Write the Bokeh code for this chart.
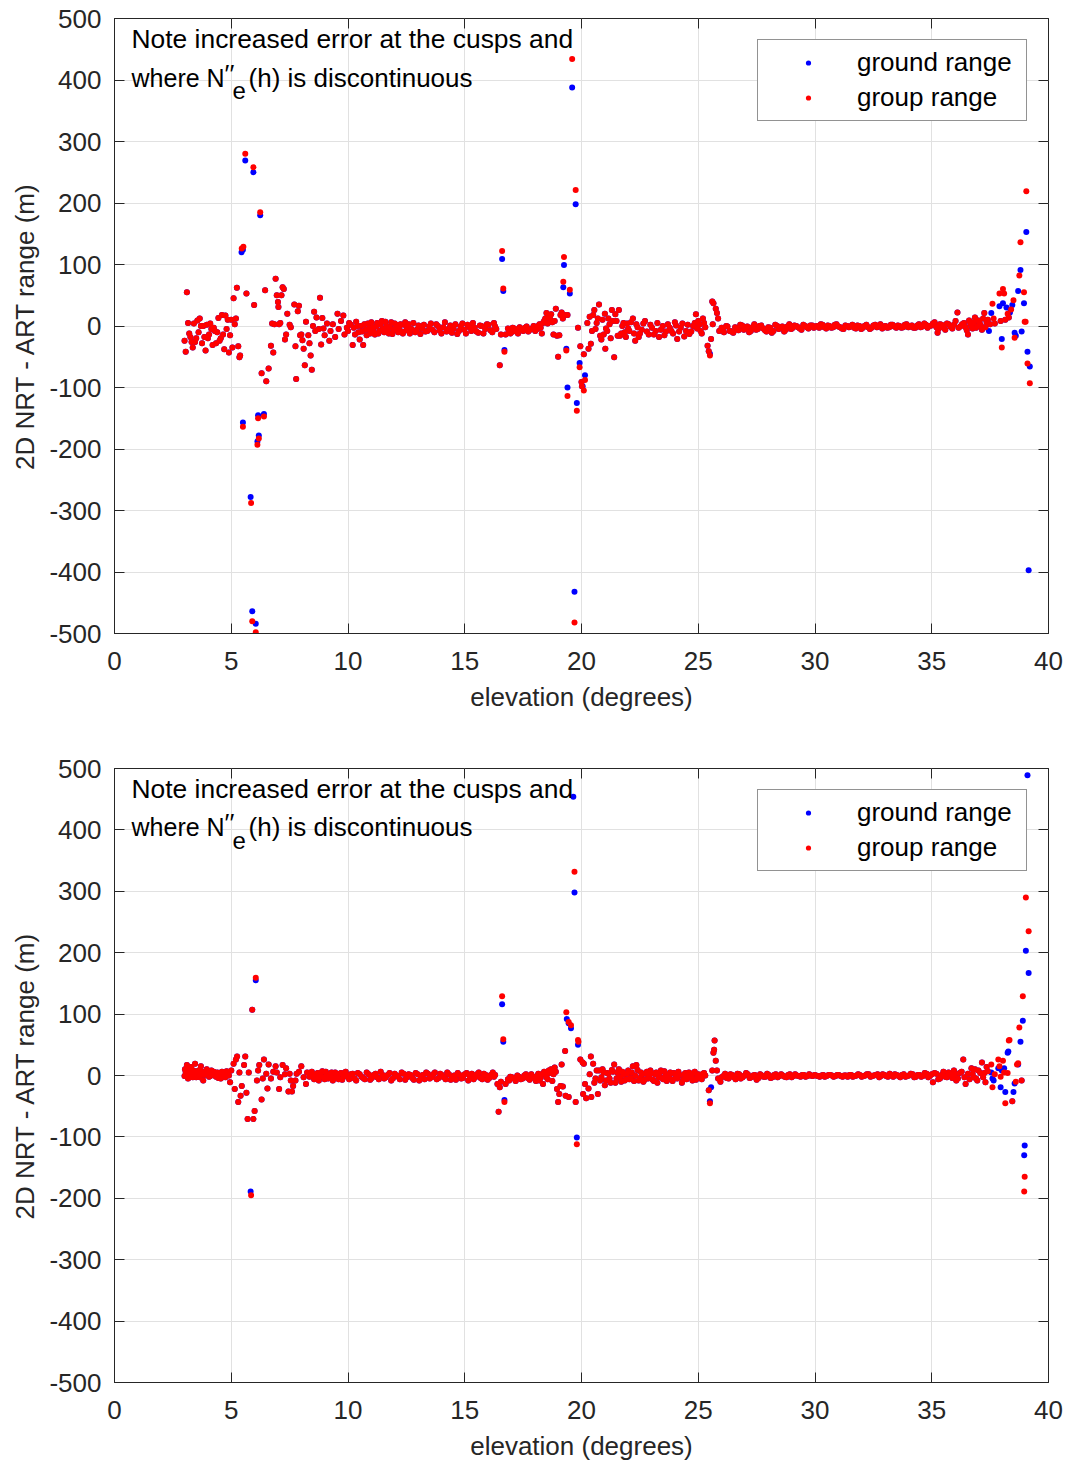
from bokeh.plotting import figure
from bokeh.layouts import column
from bokeh.models import (Label, Legend, LegendItem, LinearAxis, SingleIntervalTicker,
                          CustomJSTickFormatter, Range1d)
from bokeh.embed import file_html
from bokeh.resources import INLINE

# ---------------- data: panel 1 ----------------
# points where ground range and group range coincide
elev_band_1 = [
    3.00, 3.05, 3.10, 3.15, 3.20, 3.25, 3.30, 3.35, 3.40, 3.45, 3.50, 3.55, 3.60, 3.65, 3.70,
    3.75, 3.80, 3.85, 3.90, 3.95, 4.00, 4.05, 4.10, 4.15, 4.20, 4.25, 4.30, 4.35, 4.40, 4.45,
    4.50, 4.55, 4.60, 4.65, 4.70, 4.75, 4.80, 4.85, 4.90, 4.95, 5.00, 5.05, 5.10, 5.15, 5.20,
    5.24, 5.30, 5.35, 5.38, 5.65, 5.98, 6.30, 6.45, 6.50, 6.60, 6.70, 6.75, 6.80, 6.85, 6.90,
    6.95, 7.00, 7.02, 7.05, 7.10, 7.15, 7.20, 7.25, 7.30, 7.35, 7.40, 7.50, 7.55, 7.70, 7.75,
    7.78, 7.85, 7.90, 7.95, 8.00, 8.05, 8.10, 8.15, 8.20, 8.30, 8.35, 8.40, 8.45, 8.50, 8.55,
    8.60, 8.65, 8.75, 8.80, 8.85, 8.90, 8.95, 9.00, 9.10, 9.20, 9.25, 9.35, 9.45, 9.55, 9.60,
    9.70, 9.80, 9.85, 9.95, 10.05, 10.20, 10.25, 10.35, 10.45, 10.50, 10.55, 10.65, 10.75,
    10.85, 10.95, 11.05, 11.15, 11.25, 11.35, 11.45, 11.55, 11.65, 11.75, 11.85, 11.95, 12.05,
    12.15, 12.25, 12.35, 12.45, 12.55, 12.65, 12.80, 12.95, 13.10, 13.25, 13.40, 13.55, 13.70,
    13.85, 14.00, 14.15, 14.30, 14.45, 14.60, 14.75, 14.90, 15.05, 15.20, 15.35, 15.50, 15.65,
    15.80, 15.95, 16.10, 16.25, 16.35, 16.50, 16.55, 16.75, 16.85, 16.95, 17.05, 17.20, 17.35,
    17.50, 17.65, 17.80, 17.95, 18.10, 18.20, 18.30, 18.40, 18.50, 18.55, 18.65, 18.70, 18.80,
    18.85, 18.90, 18.95, 19.00, 19.05, 19.10, 19.15, 19.28, 19.40, 19.85, 19.95, 20.00, 20.02,
    20.10, 20.25, 20.30, 20.35, 20.40, 20.45, 20.55, 20.65, 20.75, 20.80, 20.90, 20.95, 21.00,
    21.02, 21.10, 21.20, 21.30, 21.40, 21.45, 21.50, 21.55, 21.60, 21.65, 21.75, 21.85, 21.95,
    22.05, 22.20, 22.30, 22.40, 22.50, 22.65, 22.80, 22.95, 23.10, 23.25, 23.40, 23.55, 23.70,
    23.85, 24.00, 24.10, 24.25, 24.40, 24.55, 24.70, 24.85, 24.90, 25.00, 25.10, 25.20, 25.25,
    25.40, 25.45, 25.55, 25.60, 25.62, 25.65, 25.75, 25.80, 25.85, 25.90, 26.00, 26.10, 26.20,
    26.35, 26.50, 26.65, 26.80, 26.95, 27.10, 27.25, 27.40, 27.55, 27.70, 27.85, 28.00, 28.15,
    28.30, 28.45, 28.60, 28.75, 28.90, 29.05, 29.20, 29.35, 29.50, 29.65, 29.80, 29.95, 30.10,
    30.25, 30.40, 30.55, 30.70, 30.85, 31.00, 31.15, 31.30, 31.45, 31.60, 31.75, 31.90, 32.05,
    32.20, 32.35, 32.50, 32.65, 32.80, 32.95, 33.10, 33.25, 33.40, 33.55, 33.70, 33.85, 34.00,
    34.15, 34.30, 34.45, 34.60, 34.75, 34.90, 35.05, 35.20, 35.25, 35.35, 35.50, 35.65, 35.80,
    35.95, 36.10, 36.15, 36.30, 36.45, 36.55, 36.65, 36.75, 36.85, 36.95, 37.05, 37.15, 37.25,
    37.35, 37.50, 37.70, 37.95, 38.15, 38.30,
]
diff_band_1 = [
    -24, -42, 55, 5, -12, -18, -26, -35, 4, -26, -20, 9, -10, 12, 0,
    -28, 0, -18, -40, 2, -20, -14, 4, -5, -31, -3, -8, -28, -10, 13,
    -24, -20, 18, -14, -38, 17, -5, 10, -43, -15, 10, -35, 45, 3, 12,
    62, -33, -51, -48, 53, 34, -77, 58, -90, -69, -32, 4, -43, 3, 77,
    50, 39, 31, 3, 5, 50, 63, 60, -22, -14, 20, 2, -2, 35, -33,
    -86, 24, 33, -15, -14, -23, -37, -64, 7, -15, -28, -48, -71, 0, 23,
    -8, 14, -5, 46, -30, 13, -4, -15, 4, -24, -8, 3, -18, 20, -5,
    8, 17, -14, -3, 5, -31, -3, 7, -10, -22, 0, -31, -6,
    4, -12, -2, -14, 5, -8, 8, -10, 0, -12, 6, -6, 2,
    -10, 3, -12, 6, -2, -12, 5, -6, -13, 2, -8, 4, -10,
    0, -12, 6, -5, -11, 3, -8, 4, -12, -2, 5, -9, 1,
    -12, 3, -7, 5, -5, -64, -14, -14, -4, -12, -3, -9, -2,
    -8, -1, -6, 0, -5, 3, -12, 8, 21, 4, 12, 19, -14,
    8, 28, -16, -50, -15, 18, 22, 18, 18, -3, -33, -91, -98,
    -46, 5, -37, 15, -29, -8, 26, 5, 35, -16, 10, -14, 20,
    -37, -8, 3, 26, -51, 19, 8, -16, 26, -16, 0, -10, 4,
    -8, 12, -24, -2, -12, 4, -9, 2, -14, 5, -6, -15, 3,
    -8, 6, -21, -3, -17, 2, -9, 5, 19, 8, -8, 12, 5,
    -32, -41, -21, 40, 3, 37, 28, 21, 12, -8, -3, -10, 0,
    -8, -11, -4, 2, -6, -1, -8, 3, -5, 1, -7, -2, -11,
    2, -5, -1, -6, 3, -3, 0, -4, 2, -2, 1, -3, 0,
    3, -2, 1, -3, 2, -1, -4, 1, -2, 2, -4, 0, -3,
    2, -5, 1, -2, 3, -1, -3, 2, -1, 1, -3, 2, -2,
    1, -3, 3, -1, 2, 0, 4, -2, -11, 3, -3, 4, -1,
    2, 22, -3, 3, -2, -14, 4, -4, 14, 0, 5, -6, 21,
    6, 3, 4, 8, 10, 14,
]
# second sweep of coinciding points (fills the dense band)
elev_band_1b = [
    10.00, 10.12, 10.30, 10.40, 10.60, 10.70, 10.80, 10.90, 11.00, 11.10, 11.20, 11.30, 11.40,
    11.50, 11.60, 11.70, 11.80, 11.90, 12.00, 12.10, 12.20, 12.30, 12.40, 12.50, 12.60, 12.72,
    12.88, 13.02, 13.18, 13.32, 13.48, 13.62, 13.78, 13.92, 14.08, 14.22, 14.38, 14.52, 14.68,
    14.82, 14.98, 15.12, 15.28, 15.42, 15.58, 15.72, 15.88, 16.02, 16.18, 16.30, 16.90, 17.00,
    17.12, 17.28, 17.42, 17.58, 17.72, 17.88, 18.02, 18.15, 18.25, 18.35, 18.45, 18.60, 18.75,
    19.20, 20.50, 20.60, 20.70, 20.85, 21.05, 21.15, 21.25, 21.35, 21.70, 21.80, 21.90, 22.00,
    22.12, 22.25, 22.35, 22.45, 22.58, 22.72, 22.88, 23.02, 23.18, 23.32, 23.48, 23.62, 23.78,
    23.92, 24.05, 24.18, 24.32, 24.48, 24.62, 24.78, 24.95, 25.05, 25.15, 25.30, 26.05, 26.25,
    26.42, 26.58, 26.72, 26.88, 27.02, 27.18, 27.32, 27.48, 27.62, 27.78, 27.92, 28.08, 28.22,
    28.38, 28.52, 28.68, 28.82, 28.98, 29.12, 29.28, 29.42, 29.58, 29.72, 29.88, 30.02, 30.18,
    30.32, 30.48, 30.62, 30.78, 30.92, 31.08, 31.22, 31.38, 31.52, 31.68, 31.82, 31.98, 32.12,
    32.28, 32.42, 32.58, 32.72, 32.88, 33.02, 33.18, 33.32, 33.48, 33.62, 33.78, 33.92, 34.08,
    34.22, 34.38, 34.52, 34.68, 34.82, 34.98, 35.12, 35.28, 35.42, 35.58, 35.72, 35.88, 36.02,
    36.22, 36.38, 36.50, 36.60, 36.70, 36.80, 36.90, 37.00, 37.10, 37.20, 37.30, 37.40,
]
diff_band_1b = [
    -8, 2, -14, 0, -9, 3, -15, -4, 6, -9, -1, -12, 2,
    -5, 7, -8, -2, -13, 4, -6, -1, -9, 2, -7, 3, -5,
    -10, 1, -4, -9, -1, -6, 3, -7, -2, -9, 1, -4, -13,
    -1, -6, 2, -8, -3, -11, 0, -5, 2, -10, -1, -8, -10,
    -4, -12, -5, -3, -9, -4, -8, 0, -3, 5, 12, 15, 6,
    12, 18, -5, 12, -22, -4, 12, -20, 8, -12, 5, -18, -4,
    6, -12, 3, -18, -6, 8, -14, -3, -8, -18, 0, -9, -3,
    -12, 1, -9, 4, -8, -13, 0, -4, 2, -12, -2, -6, -1,
    -9, -2, -7, 1, -4, -10, -2, -6, 0, -4, -9, -3, -8,
    0, -3, -9, -1, -5, 1, -2, -6, 0, -4, 1, -1, -3,
    2, -4, 0, -2, 3, -2, -5, 0, -1, -3, 1, -5, 0,
    -2, -3, 2, -1, -4, 0, -2, 2, -3, 0, -2, 3, -1,
    -3, 1, -2, 4, -3, 1, 6, -5, 2, -6, 3, -4, 8,
    -1, 5, -7, 9, -1, 6, -3, 9, 1, 12, -2, 10,
]
# points where the two differ
elev_ground_1 = [5.44, 5.50, 5.50, 5.60, 5.83, 5.90, 5.95, 6.05, 6.15, 6.18, 6.12, 6.24, 6.40,
                 16.60, 16.65, 16.70, 19.25, 19.22, 19.50, 19.35, 19.40, 19.60, 19.70, 19.75,
                 19.80, 19.92, 20.05, 20.15, 25.50, 37.45, 37.55, 37.90, 38.00, 38.05, 38.20,
                 38.35, 38.45, 38.55, 38.60, 38.70, 38.80, 38.85, 38.95, 39.05, 39.10, 39.15, 39.20]
diff_ground_1 = [120, 124, -157, 269, -278, -464, 250, -484, -145, -178, -188, 180, -143,
                 109, 57, -39, 99, 63, 53, -37, -100, 388, -432, 198,
                 -125, -60, -98, -80, -45, -8, 21, 32, -21, 37, 30,
                 22, 34, -11, -16, 57, 91, -9, 37, 153, -42, -397, -66]
elev_group_1 = [5.45, 5.52, 5.50, 5.60, 5.85, 5.90, 5.95, 6.05, 6.15, 6.18, 6.12, 6.24, 6.40,
                16.60, 16.65, 16.70, 19.25, 19.22, 19.50, 19.35, 19.40, 19.60, 19.70, 19.75,
                19.80, 19.92, 20.10, 20.15, 25.50, 37.60, 37.65, 37.90, 38.00, 38.05, 38.10,
                38.25, 38.40, 38.50, 38.55, 38.75, 38.80, 38.95, 38.98, 39.02, 39.05, 39.10, 39.20]
diff_group_1 = [126, 129, -164, 280, -288, -480, 258, -498, -150, -183, -193, 185, -147,
                122, 61, -42, 112, 72, 59, -40, -114, 434, -482, 221,
                -138, -67, -105, -88, -48, 36, 12, 53, -35, 60, 53,
                20, 27, 42, -19, 82, 136, 55, 7, 7, 219, -61, -93]

# ---------------- data: panel 2 ----------------
elev_band_2 = [
    3.00, 3.05, 3.10, 3.15, 3.20, 3.30, 3.35, 3.45, 3.50, 3.60, 3.70, 3.75, 3.80, 3.90, 4.00,
    4.05, 4.15, 4.20, 4.30, 4.40, 4.45, 4.55, 4.60, 4.70, 4.75, 4.85, 4.95, 5.00, 5.10, 5.15,
    5.20, 5.25, 5.30, 5.35, 5.40, 5.45, 5.55, 5.60, 5.65, 5.70, 5.75, 5.90, 5.95, 6.00, 6.10,
    6.15, 6.20, 6.30, 6.35, 6.40, 6.50, 6.55, 6.60, 6.70, 6.80, 6.90, 6.95, 7.05, 7.10, 7.20,
    7.30, 7.35, 7.45, 7.50, 7.55, 7.60, 7.65, 7.75, 7.80, 7.90, 8.00, 8.10, 8.20, 8.25, 8.35,
    8.45, 8.55, 8.65, 8.75, 8.85, 8.95, 9.05, 9.15, 9.25, 9.35, 9.45, 9.55, 9.65, 9.75, 9.85,
    9.95, 10.05, 10.20, 10.35, 10.50, 10.65, 10.80, 10.95, 11.10, 11.25, 11.40, 11.55, 11.70,
    11.85, 12.00, 12.15, 12.30, 12.45, 12.60, 12.75, 12.90, 13.05, 13.20, 13.35, 13.50, 13.65,
    13.80, 13.95, 14.10, 14.25, 14.40, 14.55, 14.70, 14.85, 15.00, 15.15, 15.30, 15.45, 15.60,
    15.75, 15.90, 16.05, 16.20, 16.30, 16.40, 16.45, 16.50, 16.55, 16.75, 16.85, 16.95, 17.10,
    17.25, 17.40, 17.55, 17.70, 17.85, 18.00, 18.10, 18.20, 18.30, 18.35, 18.45, 18.50, 18.60,
    18.70, 18.80, 18.85, 18.95, 19.00, 19.05, 19.10, 19.15, 19.20, 19.30, 19.32, 19.45, 19.75,
    19.95, 20.05, 20.07, 20.10, 20.15, 20.20, 20.30, 20.35, 20.40, 20.42, 20.50, 20.60, 20.70,
    20.75, 20.85, 20.95, 21.05, 21.15, 21.25, 21.35, 21.40, 21.50, 21.60, 21.70, 21.80, 21.90,
    22.00, 22.10, 22.20, 22.30, 22.35, 22.45, 22.55, 22.65, 22.75, 22.85, 22.95, 23.05, 23.15,
    23.25, 23.35, 23.45, 23.55, 23.65, 23.75, 23.85, 23.95, 24.05, 24.15, 24.30, 24.40, 24.50,
    24.60, 24.70, 24.80, 24.90, 25.00, 25.10, 25.20, 25.30, 25.45, 25.60, 25.65, 25.68, 25.70,
    25.75, 25.80, 25.85, 25.95, 26.00, 26.15, 26.30, 26.45, 26.60, 26.75, 26.90, 27.05, 27.20,
    27.35, 27.50, 27.65, 27.80, 27.95, 28.10, 28.25, 28.40, 28.55, 28.70, 28.85, 29.00, 29.15,
    29.30, 29.45, 29.60, 29.75, 29.90, 30.05, 30.20, 30.35, 30.50, 30.65, 30.80, 30.95, 31.10,
    31.25, 31.40, 31.55, 31.70, 31.85, 32.00, 32.15, 32.30, 32.45, 32.60, 32.75, 32.90, 33.05,
    33.20, 33.35, 33.50, 33.65, 33.80, 33.95, 34.10, 34.25, 34.40, 34.55, 34.70, 34.85, 35.00,
    35.05, 35.20, 35.35, 35.50, 35.65, 35.80, 35.95, 36.05, 36.20, 36.35, 36.45, 36.55, 36.70,
    36.80, 36.90, 37.00, 37.15, 37.25, 37.30, 37.40, 38.45,
]
diff_band_2 = [
    -1, 6, 17, -5, 10, 5, -3, 19, -3, 8, 15, 2, -8, 6, 5,
    -2, 8, 2, 0, 5, -4, -5, 6, 5, -3, 2, -11, 8, 19, -22,
    26, 31, -43, 5, -33, -17, 17, 31, -28, -71, 5, 107, -71, -58, -8,
    8, 17, -39, -5, 26, 3, -21, 18, -5, 6, 15, 5, -22, -3, 17,
    2, 12, -26, 3, -8, -26, -17, -8, 3, 6, 15, -3, -14, 5, -2,
    6, -6, 2, -8, 4, -3, 6, -5, 1, -8, 5, -2, 3, -7, 4,
    0, -6, 3, -8, 2, -4, 5, -7, 1, -3, 6, -5, 1,
    -8, 3, -2, 5, -7, 2, -4, 4, -8, 1, 5, -5, 2,
    -6, 3, -3, 5, -7, 0, 4, -5, 2, -8, 3, -3, 5,
    -6, 1, -4, 5, 1, -14, -59, -19, -10, -14, -6, -2, -5,
    0, -6, 0, -4, 2, -5, -1, -8, 2, -14, 3, -3, 8,
    10, 2, 13, -22, -43, -30, -17, 18, -18, 40, -33, -35, -43,
    26, 21, -30, 19, -14, -37, -21, 2, 31, -35, 19, -5, -30,
    8, -3, 5, -8, 3, -12, 6, 18, -5, 10, -10, 2, -6,
    8, -4, 15, 0, 17, -8, 5, -10, 3, -5, 8, -7, 2,
    -12, 5, -4, 7, -9, 1, -6, 4, -3, 6, -12, 2, -6,
    5, -3, 4, -7, 2, -4, 3, 0, -24, 8, 37, 42, 57,
    24, 8, -5, -10, -3, 3, -5, 1, -6, 2, -3, 4, -4,
    0, -7, 2, -2, 3, -4, 1, -3, 2, -2, 1, -3, 2,
    -1, 1, -2, 2, -1, 0, -2, 1, -1, 1, -2, 1, -1,
    0, -2, 1, -1, 2, -2, 0, 2, -1, 1, -3, 2, -1,
    3, -2, 1, -3, 2, -1, 3, -3, 1, -2, 4, -3, 2,
    -11, 3, -5, 6, -3, 2, 8, -8, 4, 26, -14, 3, 12,
    -3, -5, 8, 21, 4, -11, 7, -42,
]
elev_band_2b = [
    3.02, 3.12, 3.22, 3.28, 3.38, 3.42, 3.55, 3.65, 3.72, 3.85, 3.95, 4.10, 4.25, 4.35, 4.50,
    4.65, 4.80, 4.90, 8.50, 8.60, 8.70, 8.80, 8.90, 9.00, 9.10, 9.20, 9.30, 9.40, 9.50, 9.60,
    9.70, 9.80, 9.90, 10.00, 10.12, 10.28, 10.42, 10.58, 10.72, 10.88, 11.02, 11.18, 11.32,
    11.48, 11.62, 11.78, 11.92, 12.08, 12.22, 12.38, 12.52, 12.68, 12.82, 12.98, 13.12, 13.28,
    13.42, 13.58, 13.72, 13.88, 14.02, 14.18, 14.32, 14.48, 14.62, 14.78, 14.92, 15.08, 15.22,
    15.38, 15.52, 15.68, 15.82, 15.98, 16.12, 16.25, 16.90, 17.02, 17.18, 17.32, 17.48, 17.62,
    17.78, 17.92, 18.05, 18.15, 18.25, 18.40, 18.55, 18.65, 18.75, 18.90, 20.55, 20.65, 20.80,
    20.90, 21.00, 21.10, 21.20, 21.30, 21.45, 21.55, 21.65, 21.75, 21.85, 21.95, 22.05, 22.15,
    22.25, 22.40, 22.50, 22.60, 22.70, 22.80, 22.90, 23.00, 23.10, 23.20, 23.30, 23.40, 23.50,
    23.60, 23.70, 23.80, 23.90, 24.00, 24.10, 24.20, 24.35, 24.45, 24.55, 24.65, 24.75, 24.85,
    24.95, 25.05, 25.15, 25.25, 26.08, 26.22, 26.38, 26.52, 26.68, 26.82, 26.98, 27.12, 27.28,
    27.42, 27.58, 27.72, 27.88, 28.02, 28.18, 28.32, 28.48, 28.62, 28.78, 28.92, 29.08, 29.22,
    29.38, 29.52, 29.68, 29.82, 29.98, 30.12, 30.28, 30.42, 30.58, 30.72, 30.88, 31.02, 31.18,
    31.32, 31.48, 31.62, 31.78, 31.92, 32.08, 32.22, 32.38, 32.52, 32.68, 32.82, 32.98, 33.12,
    33.28, 33.42, 33.58, 33.72, 33.88, 34.02, 34.18, 34.32, 34.48, 34.62, 34.78, 34.92, 35.12,
    35.28, 35.42, 35.58, 35.72, 35.88, 36.00, 36.12, 36.28, 36.40, 36.62, 36.75, 36.85, 36.95,
    37.08, 37.20, 37.35,
]
diff_band_2b = [
    10, 3, -3, 14, 8, 0, 4, -3, 7, 1, 10, -1, 6, -2, 3,
    -1, 7, 0, 0, -4, 4, -2, 7, -6, 2, -3, 5, -4, 1, -6,
    4, -2, 6, -3, 2, -5, 4, -2, -6, 2, -4, 3, -6,
    1, -3, 4, -5, 0, -6, 3, -3, 1, -7, 2, -2, -6,
    3, -3, 5, -4, 1, -6, 2, -3, -7, 1, -4, 4, -2,
    -6, 2, -4, 3, -7, 1, -2, -8, -3, -9, -2, -5, 2,
    -7, -2, -9, 3, -4, 6, -6, 4, -9, 6, -12, 8, -8,
    10, -16, 4, -5, 9, -12, 4, -3, 6, -8, 3, -6, 5,
    -9, 9, -4, 2, -7, 6, -2, 4, -9, 5, -3, 8, -6,
    2, -4, 5, -9, 3, -5, 1, -7, 4, -3, 2, -8, 6,
    -2, 1, -6, 4, -1, -4, 2, -3, 3, -5, 0, 2, -3,
    1, -4, 0, -2, 1, -3, 2, -1, 0, -3, 2, -1, 0,
    -2, 1, -1, 0, 1, -1, 0, -2, 1, 0, -1, 1, -2,
    0, 1, -2, 0, 1, -1, 2, -2, 0, 2, -1, 1, -2,
    0, 2, -1, 1, -2, 0, 2, -2, 1, -1, 3, -1, 4,
    -6, 1, -2, 5, -4, 2, -5, 6, -3, -6, 3, 10, -8,
    4, -3, 14,
]
elev_ground_2 = [5.83, 6.05, 16.60, 16.65, 16.70, 19.37, 19.45, 19.55, 19.65, 19.70, 19.80,
                 19.85, 25.50, 25.55, 37.55, 37.60, 37.65, 37.85, 37.95, 38.00, 38.10, 38.15,
                 38.25, 38.28, 38.50, 38.55, 38.70, 38.80, 38.85, 38.90, 38.96, 38.98, 39.03,
                 39.10, 39.15]
diff_ground_2 = [-189, 155, 116, 55, -40, 92, 85, 77, 454, 298, -101,
                 50, -42, -19, 5, -5, -8, 12, -19, 8, 12, -27,
                 37, 39, -27, -13, 18, 55, -8, 89, -130, -114, 203,
                 489, 167]
elev_group_2 = [5.85, 6.05, 16.60, 16.65, 16.70, 19.35, 19.45, 19.55, 19.70, 19.80, 19.85,
                19.87, 25.50, 37.55, 37.60, 37.70, 37.85, 37.90, 37.95, 38.05, 38.10, 38.15,
                38.25, 38.30, 38.33, 38.60, 38.65, 38.70, 38.75, 38.85, 38.90, 38.96, 38.98,
                39.03, 39.15]
diff_group_2 = [-195, 159, 129, 59, -43, 103, 87, 82, 332, -112, 58,
                55, -45, 18, -19, 2, 26, 15, -2, 24, 5, -45,
                4, 57, 58, -10, 18, 20, 78, -8, 129, -189, -165,
                290, 235]

x_ticks_step = 5
y_ticks_step = 100
FONT = "Liberation Sans"
AX = "#262626"
GRID = "#e1e1e1"
FS = "26px"


def blank_axis(step):
    ax = LinearAxis(ticker=SingleIntervalTicker(interval=step),
                    formatter=CustomJSTickFormatter(code="return ''"))
    ax.major_label_text_font_size = "1px"
    ax.major_label_standoff = 0
    ax.axis_line_color = None
    ax.major_tick_in = 10
    ax.major_tick_out = 0
    ax.minor_tick_line_color = None
    ax.major_tick_line_color = AX
    return ax


def make_panel(band_x, band_y, gx, gy, rx, ry, height, top, bottom):
    p = figure(width=1066, height=height, output_backend="svg", toolbar_location=None,
               x_range=Range1d(0, 40), y_range=Range1d(-500, 500),
               min_border_left=114, min_border_right=18,
               min_border_top=top, min_border_bottom=bottom)
    p.outline_line_color = AX
    p.outline_line_width = 1
    p.background_fill_color = "white"
    p.border_fill_color = "white"

    p.xaxis.ticker = SingleIntervalTicker(interval=x_ticks_step)
    p.yaxis.ticker = SingleIntervalTicker(interval=y_ticks_step)
    p.yaxis.formatter = CustomJSTickFormatter(code="return String(tick)")
    for ax in (p.xaxis[0], p.yaxis[0]):
        ax.axis_line_color = AX
        ax.major_tick_line_color = AX
        ax.major_tick_in = 10
        ax.major_tick_out = 0
        ax.minor_tick_line_color = None
        ax.major_label_text_font = FONT
        ax.major_label_text_font_size = FS
        ax.major_label_text_color = AX
        ax.axis_label_text_font = FONT
        ax.axis_label_text_font_size = FS
        ax.axis_label_text_font_style = "normal"
        ax.axis_label_text_color = AX
    p.xaxis.axis_label = "elevation (degrees)"
    p.yaxis.axis_label = "2D NRT - ART range (m)"
    p.xaxis.major_label_standoff = 14
    p.xaxis.axis_label_standoff = 9
    p.yaxis.major_label_standoff = 9
    p.yaxis.axis_label_standoff = 6

    p.add_layout(blank_axis(x_ticks_step), "above")
    p.add_layout(blank_axis(y_ticks_step), "right")

    p.xgrid.grid_line_color = GRID
    p.ygrid.grid_line_color = GRID
    p.xgrid.ticker = SingleIntervalTicker(interval=x_ticks_step)
    p.ygrid.ticker = SingleIntervalTicker(interval=y_ticks_step)

    rg = p.scatter(band_x + gx, band_y + gy, size=6, marker="circle",
                   fill_color="#0000ff", line_color=None)
    rr = p.scatter(band_x + rx, band_y + ry, size=6, marker="circle",
                   fill_color="#ff0000", line_color=None)

    legend = Legend(items=[LegendItem(label="ground range", renderers=[rg]),
                           LegendItem(label="group range", renderers=[rr])],
                    location="top_right")
    legend.margin = 21
    legend.padding = 7
    legend.spacing = 4
    legend.glyph_width = 86
    legend.glyph_height = 13
    legend.label_height = 13
    legend.label_width = 162
    legend.label_standoff = 6
    legend.label_text_font = FONT
    legend.label_text_font_size = FS
    legend.label_text_baseline = "alphabetic"
    legend.label_text_color = "black"
    legend.border_line_color = AX
    legend.border_line_width = 1
    legend.background_fill_color = "white"
    legend.background_fill_alpha = 1
    p.add_layout(legend)

    base_x = 0.73
    common = dict(x_units="data", y_units="data", text_font=FONT, text_color="black",
                  text_baseline="alphabetic", text_align="left")
    y1, y2 = 466, 404
    p.add_layout(Label(x=base_x, y=y1, text="Note increased error at the cusps and",
                       text_font_size="26.4px", **common))
    p.add_layout(Label(x=base_x, y=y2, text="where N", text_font_size="25px", **common))
    p.add_layout(Label(x=base_x, y=y2, x_offset=93, y_offset=4, text="\u2032\u2032",
                       text_font_size="26px", **common))
    p.add_layout(Label(x=base_x, y=y2, x_offset=101, y_offset=-13, text="e",
                       text_font_size="24px", **common))
    p.add_layout(Label(x=base_x, y=y2, x_offset=117, text="(h) is discontinuous",
                       text_font_size=FS, **common))
    return p


p1 = make_panel(elev_band_1 + elev_band_1b, diff_band_1 + diff_band_1b,
                elev_ground_1, diff_ground_1, elev_group_1, diff_group_1, 731, 18, 98)
p2 = make_panel(elev_band_2 + elev_band_2b, diff_band_2 + diff_band_2b,
                elev_ground_2, diff_ground_2, elev_group_2, diff_group_2, 732, 37, 80)

layout = column(p1, p2, spacing=0)
open("out.html", "w").write(file_html(layout, INLINE))
